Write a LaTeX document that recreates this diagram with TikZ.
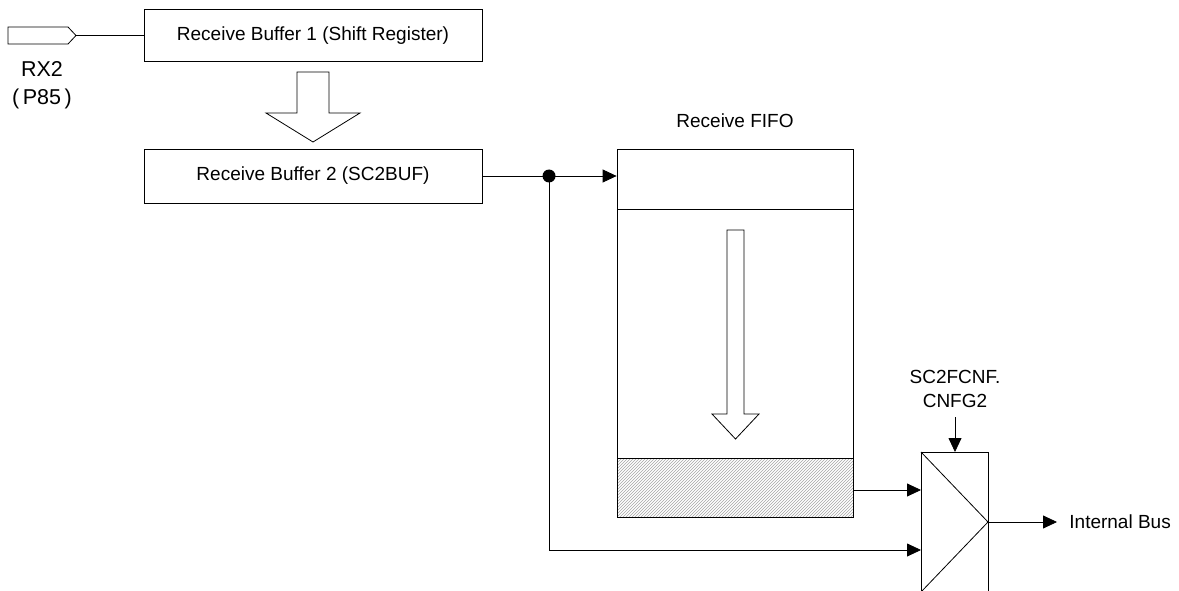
\documentclass[tikz,border=0pt]{standalone}
\usepackage{fontspec}
\setmainfont{Liberation Sans}
\usetikzlibrary{arrows.meta,patterns}
\begin{document}
\begin{tikzpicture}[x=1pt,y=-1pt,
  line width=0.8pt,
  every node/.style={font=\fontsize{19}{23.5}\selectfont},
  box/.style={draw, rectangle, inner sep=0pt},
  lbl/.style={inner sep=0pt, align=center},
  big/.style={font=\fontsize{21.5}{26}\selectfont},
  arr/.style={-{Triangle[length=14pt,width=13pt]}},
  hollow/.style={draw, fill=white, line width=0.8pt}]
\clip (0,0) rectangle (1179,591);
\fill[white] (0,0) rectangle (1179,591);
% input pin
\draw[hollow] (8,27) -- (68,27) -- (76,35.5) -- (68,44) -- (8,44) -- cycle;
\coordinate (pin) at (76,35.5);
\node[lbl, big] (rx) at (42,69) {RX2};
\node[lbl, big] (p85) at (42,99) {(\,P85\,)};
% buffers
\node[box, minimum width=338pt, minimum height=52pt] (b1) at (313,35.5) {Receive Buffer 1 (Shift Register)};
\node[box, minimum width=338pt, minimum height=54pt] (b2) at (313,176) {Receive Buffer 2 (SC2BUF)};
\draw (pin) -- (b1.west);
% big transfer arrow
\draw[hollow] (297,72) -- (329,72) -- (329,113) -- (360,113) -- (313,142) -- (266,113) -- (297,113) -- cycle;
% FIFO
\node[lbl] (fifolbl) at (735,121) {Receive FIFO};
\node[box, minimum width=236pt, minimum height=60pt] (ftop) at (735,179) {};
\node[box, minimum width=236pt, minimum height=249pt] (fmid) at (735,333.5) {};
\node[box, minimum width=236pt, minimum height=59pt, pattern=north east lines, pattern color=gray!70] (fbot) at (735,487.5) {};
\draw[hollow] (727,230) -- (744,230) -- (744,414) -- (759,414) -- (735.5,439) -- (712,414) -- (727,414) -- cycle;
% multiplexer
\node[box, minimum width=67pt, minimum height=150pt, anchor=north west] (mux) at (921,452) {};
\coordinate (mtip) at (988,522);
\draw (mux.north west) -- (mtip) -- (921,592);
\coordinate (in0) at (921,490);
\coordinate (in1) at (921,550);
\node[lbl] (cfg) at (955,389) {SC2FCNF.\\CNFG2};
\coordinate (cfgtop) at (955,417);
\draw[arr] (cfgtop) -- (955,452);
% connections
\coordinate (dot) at (549,176);
\draw (b2.east) -- (dot);
\draw[arr] (dot) -- (dot -| ftop.west);
\fill (dot) circle (6.5);
\draw[arr] (dot) |- (in1);
\draw[arr] (fbot.east |- in0) -- (in0);
\coordinate (busend) at (1057,522);
\draw[arr] (mtip) -- (busend);
\node[lbl, anchor=west] (bus) at (1069,522) {Internal Bus};
\end{tikzpicture}
\end{document}
